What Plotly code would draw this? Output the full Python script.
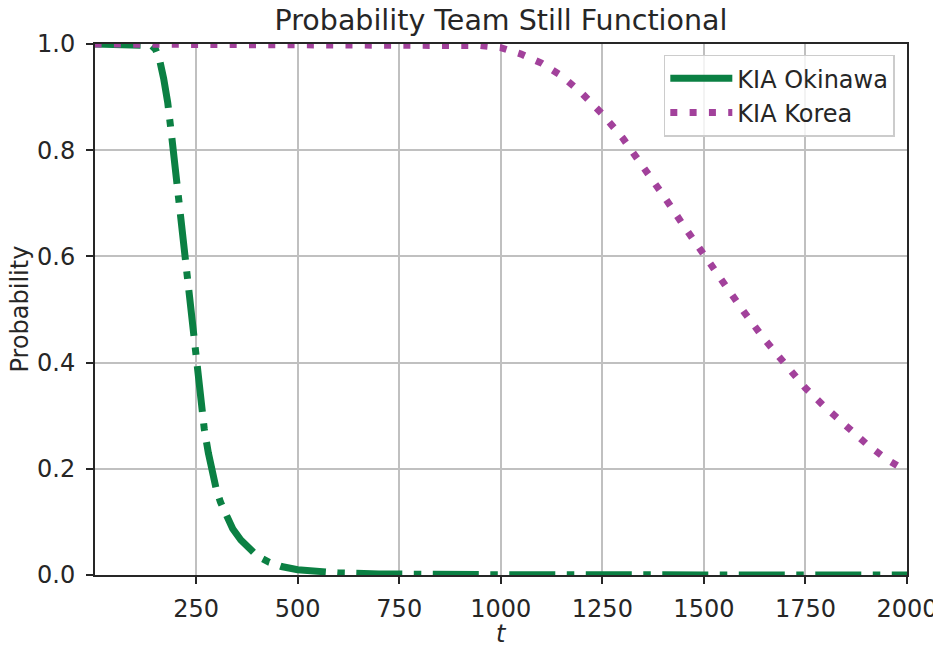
import plotly.graph_objects as go

# Data
t_okinawa = [0, 100, 140, 150, 160, 170, 180, 190, 200, 210, 220, 230, 240, 250, 260,
             270, 280, 290, 300, 310, 320, 330, 340, 360, 380, 400, 430, 460, 500,
             550, 600, 700, 800, 1000, 1500, 2000]
p_okinawa = [1.0, 1.0, 0.997, 0.99, 0.97, 0.935, 0.89, 0.825, 0.755, 0.69, 0.62, 0.54,
             0.46, 0.385, 0.33, 0.275, 0.23, 0.19, 0.16, 0.137, 0.12, 0.103, 0.087,
             0.066, 0.05, 0.036, 0.024, 0.016, 0.01, 0.006, 0.004, 0.002, 0.001,
             0.0005, 0.0002, 0.0001]

t_korea = [0, 500, 800, 900, 950, 1000, 1050, 1100, 1150, 1200, 1250, 1300, 1350, 1400,
           1450, 1500, 1550, 1600, 1650, 1700, 1750, 1800, 1850, 1900, 1950, 2000]
p_korea = [1.0, 1.0, 0.999, 0.998, 0.997, 0.993, 0.981, 0.964, 0.940, 0.907, 0.868,
           0.823, 0.770, 0.715, 0.658, 0.602, 0.547, 0.494, 0.443, 0.397, 0.352,
           0.315, 0.279, 0.247, 0.218, 0.195]

x_ticks = [250, 500, 750, 1000, 1250, 1500, 1750, 2000]
y_ticks = [0.0, 0.2, 0.4, 0.6, 0.8, 1.0]

names = ["KIA Okinawa", "KIA Korea"]
GREEN = "#0b8043"
PURPLE = "#a2419b"
FONT = "DejaVu Sans"
TEXT = "#262626"

# page body margin offsets the figure by ~7px; sizes compensate for it
W, H = 933, 639
ML, MR, MT, MB = 87, 34, 36, 72

fig = go.Figure()
fig.add_trace(go.Scatter(x=t_okinawa, y=p_okinawa, mode="lines", showlegend=False,
                         line=dict(color=GREEN, width=7, dash="46px,11.5px,7.5px,11.5px")))
fig.add_trace(go.Scatter(x=t_korea, y=p_korea, mode="lines", showlegend=False,
                         line=dict(color=PURPLE, width=7, dash="7px,12.3px")))
# legend handles (matching the reference legend appearance)
fig.add_trace(go.Scatter(x=[None], y=[None], mode="lines", name=names[0],
                         line=dict(color=GREEN, width=7)))
fig.add_trace(go.Scatter(x=[None], y=[None], mode="lines", name=names[1],
                         line=dict(color=PURPLE, width=7, dash="7px,12.3px")))

axis_common = dict(showgrid=True, gridcolor="#c0c0c0", gridwidth=1.5,
                   showline=True, linecolor=TEXT, linewidth=2, mirror=True,
                   ticks="outside", ticklen=7, tickwidth=2, tickcolor=TEXT,
                   tickfont=dict(family=FONT, size=24, color=TEXT),
                   zeroline=False, automargin=False)

fig.update_layout(
    width=W, height=H,
    margin=dict(l=ML, r=MR, t=MT, b=MB),
    paper_bgcolor="white", plot_bgcolor="white",
    font=dict(family=FONT, size=24, color=TEXT),
    title=dict(text="Probability Team Still Functional", x=0.5, xref="paper",
               xanchor="center", y=1 - 12 / H, yanchor="middle", yref="container",
               font=dict(family=FONT, size=28.5, color=TEXT)),
    xaxis=dict(range=[1, 2000], tickvals=x_ticks, ticktext=[str(v) for v in x_ticks],
               ticklabelstandoff=4, **axis_common),
    yaxis=dict(range=[0, 1], tickvals=y_ticks, tickformat=".1f",
               ticklabelstandoff=6, **axis_common),
    legend=dict(x=0.985, y=0.98, xanchor="right", yanchor="top",
                bgcolor="rgba(255,255,255,0.8)", bordercolor="#cccccc", borderwidth=1.5,
                font=dict(family=FONT, size=24, color=TEXT), tracegroupgap=0,
                itemwidth=62),
    annotations=[
        dict(text="Probability", xref="paper", yref="paper", x=-(ML - 11) / (W - ML - MR),
             y=0.5, xanchor="center", yanchor="middle", textangle=-90, showarrow=False,
             font=dict(family=FONT, size=24, color=TEXT)),
        dict(text="<i>t</i>", xref="paper", yref="paper", x=0.5,
             y=-(59) / (H - MT - MB), xanchor="center", yanchor="middle",
             showarrow=False, font=dict(family=FONT, size=24, color=TEXT)),
    ],
)

fig.write_html("out.html")
